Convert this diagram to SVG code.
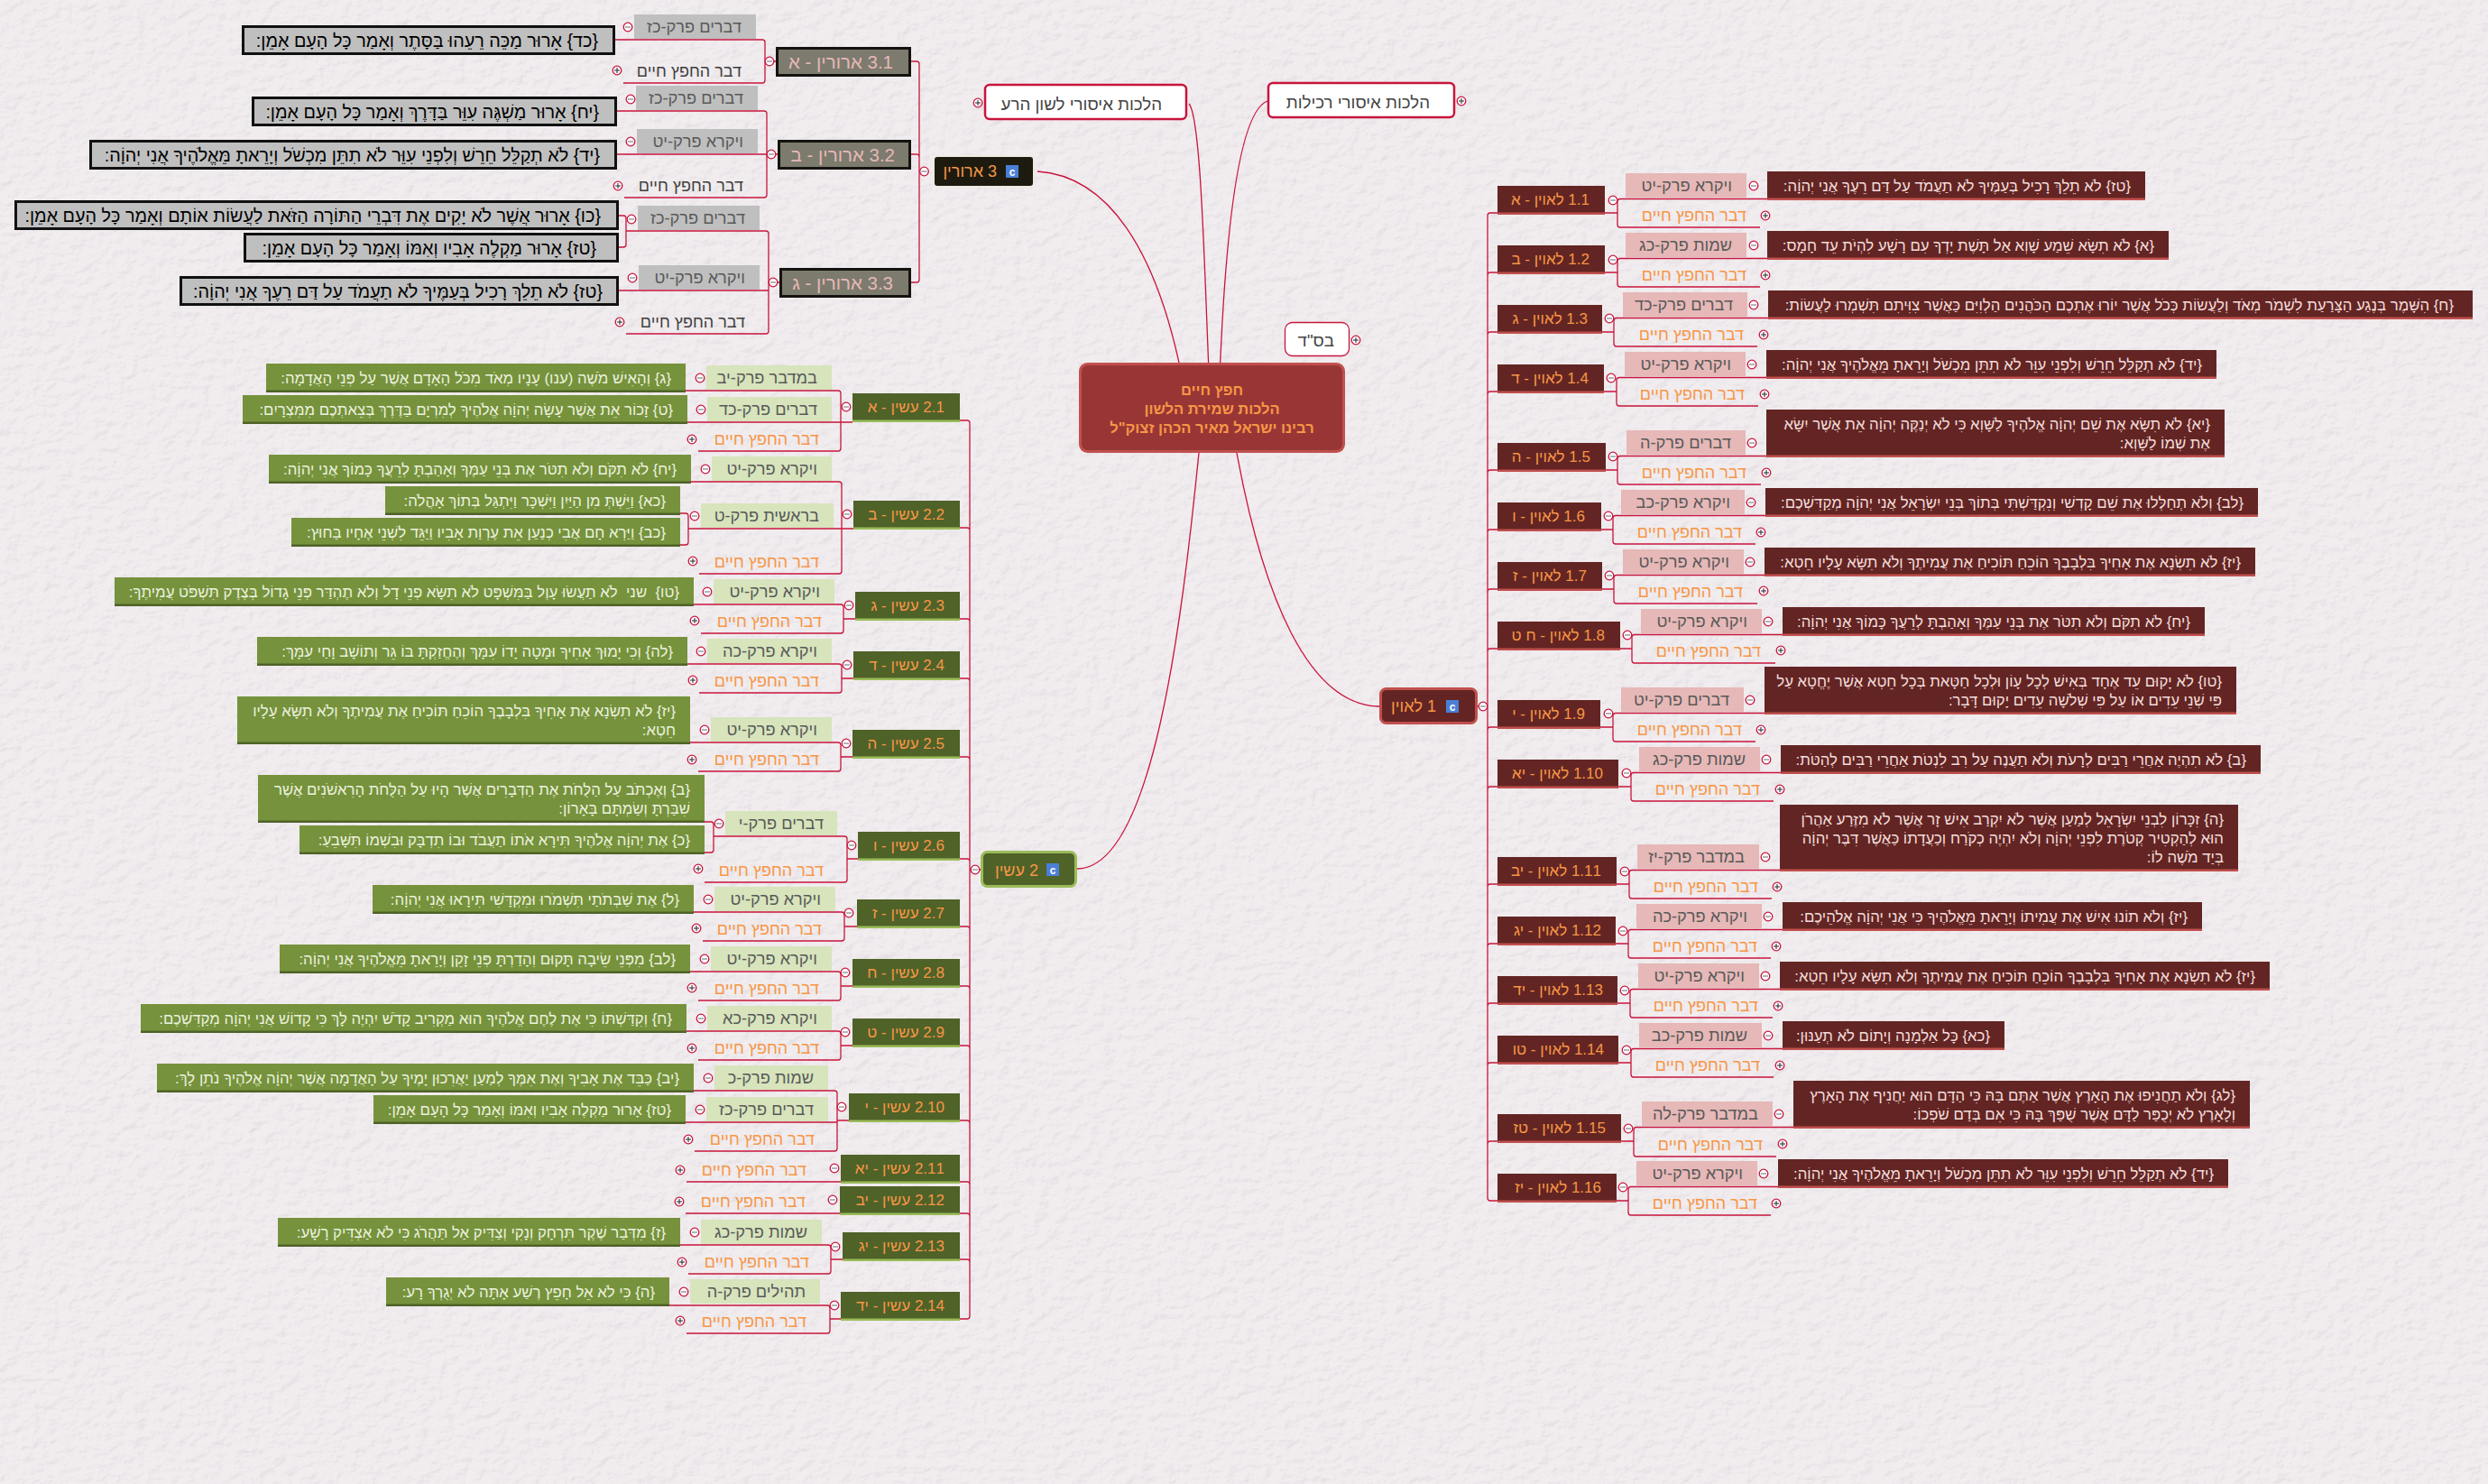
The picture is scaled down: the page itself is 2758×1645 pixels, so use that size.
<svg xmlns="http://www.w3.org/2000/svg" width="2758" height="1645" viewBox="0 0 2758 1645">
<style>
text{font-family:"Liberation Sans","Noto Sans",sans-serif;direction:rtl;text-anchor:start;font-size:16.800px}
.cn{fill:none;stroke:#c8143c;stroke-width:1.3}
.ch text{fill:#595959;font-size:18.200px}
.cr rect{fill:#e6b8b7}.cg rect{fill:#d7e4bc}.ck rect{fill:#bfbfbf}
.dv text{fill:#f79646;font-size:18px}
.dk text{fill:#404040}
.nr text,.ng text{font-size:17px}
.nr rect{fill:#632523}.nr .s{fill:#c0504d}.nr text,.ng text{fill:#f79646}
.ng rect{fill:#4f6228}.ng .s{fill:#9bbb59}
.nk rect{fill:#7c7b6e;stroke:#14130f;stroke-width:3}.nk text{fill:#e6b8b7;font-size:20.500px}
.vr rect{fill:#632523}.vr .s{fill:#c0504d}.vr text{fill:#f2dcdb}
.vg rect{fill:#76923c}.vg .s{fill:#4f6228}.vg text{fill:#ebf1de}
.vk rect{fill:#bfbfbf;stroke:#111;stroke-width:3}.vk text{fill:#000;font-size:19.800px}
.w rect{fill:#fff;stroke:#c8143c;stroke-width:2.500}.w text{fill:#444;font-size:18.700px}
.ct text{fill:#f79646;font-weight:bold;font-size:16.500px;text-anchor:middle}
.big text{fill:#f79646;font-size:18px}
.big .ic{fill:#fff;direction:ltr;text-anchor:middle;font-size:12px;font-weight:bold}
.mc{fill:#fff;stroke:#c8143c;stroke-width:1.300}
.ml{fill:none;stroke:#667;stroke-width:1}
</style>
<defs>
<filter id="paper" x="0" y="0" width="100%" height="100%" color-interpolation-filters="sRGB">
<feTurbulence type="fractalNoise" baseFrequency="0.07 0.1" numOctaves="4" seed="4" result="n"/>
<feDiffuseLighting in="n" surfaceScale="0.45" diffuseConstant="1.100" lighting-color="#fff"><feDistantLight azimuth="45" elevation="65"/></feDiffuseLighting>
<feColorMatrix type="matrix" values="0.945 0 0 0 0 0 0.925 0 0 0 0 0 0.935 0 0 0 0 0 0 1"/>
</filter>
<g id="mi"><circle class="mc" r="4.800"/><path class="ml" d="M-3 0H3"/></g>
<g id="pl"><circle class="mc" r="4.800"/><path d="M-3 0H3M0-3V3" fill="none" stroke="#223" stroke-width="1"/></g>
</defs>
<rect width="2758" height="1645" fill="#f0ecee" filter="url(#paper)"/>

<g id="connectors">
<path class="cn" d="M1150 190C1230 195 1280 280 1307 402M1318 115C1331 130 1335 290 1339.600 402M1405 112C1370 125 1358 280 1352.700 402M1329 502C1310 690 1278 963 1194 963M1371 502C1400 660 1450 783 1530 783"/>
<path class="cn" d="M1637 783H1649M1660 236H1652Q1649 236 1649 239V1328Q1649 1331 1652 1331H1660M1660 302H1652Q1649 302 1649 305M1660 368H1652Q1649 368 1649 371M1660 434H1652Q1649 434 1649 437M1660 521H1652Q1649 521 1649 524M1660 587H1652Q1649 587 1649 590M1660 653H1652Q1649 653 1649 656M1660 719H1652Q1649 719 1649 722M1660 806H1652Q1649 806 1649 809M1660 872H1652Q1649 872 1649 875M1660 980H1652Q1649 980 1649 983M1660 1046H1652Q1649 1046 1649 1049M1660 1112H1652Q1649 1112 1649 1115M1660 1178H1652Q1649 1178 1649 1181M1660 1265H1652Q1649 1265 1649 1268"/>
<path class="cn" d="M1959 220.500H1796Q1793 220.500 1793 223.500V249Q1793 252 1796 252H1951M1779 236H1793"/>
<path class="cn" d="M1959 286.500H1796Q1793 286.500 1793 289.500V315Q1793 318 1796 318H1951M1779 302H1793"/>
<path class="cn" d="M1960 352.500H1792Q1789 352.500 1789 355.500V381Q1789 384 1792 384H1948M1776 368H1789"/>
<path class="cn" d="M1958 418.500H1795Q1792 418.500 1792 421.500V447Q1792 450 1795 450H1949M1778 434H1792"/>
<path class="cn" d="M1958 505.500H1796Q1793 505.500 1793 508.500V534Q1793 537 1796 537H1952M1780 521H1793"/>
<path class="cn" d="M1957 571.500H1791Q1788 571.500 1788 574.500V600Q1788 603 1791 603H1946M1775 587H1788"/>
<path class="cn" d="M1956 637.500H1792Q1789 637.500 1789 640.500V666Q1789 669 1792 669H1948M1776 653H1789"/>
<path class="cn" d="M1976 703.500H1812Q1809 703.500 1809 706.500V732Q1809 735 1812 735H1968M1796 719H1809"/>
<path class="cn" d="M1956 790.500H1791Q1788 790.500 1788 793.500V819Q1788 822 1791 822H1946M1774 806H1788"/>
<path class="cn" d="M1974 856.500H1811Q1808 856.500 1808 859.500V885Q1808 888 1811 888H1966M1794 872H1808"/>
<path class="cn" d="M1973 964.500H1809Q1806 964.500 1806 967.500V993Q1806 996 1809 996H1964M1792 980H1806"/>
<path class="cn" d="M1976 1030.500H1808Q1805 1030.500 1805 1033.500V1059Q1805 1062 1808 1062H1963M1791 1046H1805"/>
<path class="cn" d="M1973 1096.500H1810Q1807 1096.500 1807 1099.500V1125Q1807 1128 1810 1128H1965M1793 1112H1807"/>
<path class="cn" d="M1976 1162.500H1811Q1808 1162.500 1808 1165.500V1191Q1808 1194 1811 1194H1966M1794 1178H1808"/>
<path class="cn" d="M1988 1249.500H1814Q1811 1249.500 1811 1252.500V1279Q1811 1282 1814 1282H1969M1797 1265H1811"/>
<path class="cn" d="M1971 1315.500H1808Q1805 1315.500 1805 1318.500V1344Q1805 1347 1808 1347H1963M1792 1331H1805"/>

<path class="cn" d="M1010 68H1016Q1019 68 1019 71V310Q1019 313 1016 313H1010M1010 171H1016Q1019 171 1019 174"/>
<path class="cn" d="M682 44H845Q848 44 848 47V89Q848 92 845 92H691M860 68H848"/>
<path class="cn" d="M684 123H847Q850 123 850 126V216Q850 219 847 219H692M684 171H862"/>
<path class="cn" d="M694 256H849Q852 256 852 259V367Q852 370 849 370H694M686 239H691Q694 239 694 242V271Q694 274 691 274H686M686 322H852M864 313H852"/>

<path class="cn" d="M1064 466H1072Q1075 466 1075 469V1459Q1075 1462 1072 1462H1064M1064 585H1072Q1075 585 1075 588M1064 686H1072Q1075 686 1075 689M1064 752H1072Q1075 752 1075 755M1064 839H1072Q1075 839 1075 842M1064 952H1072Q1075 952 1075 955M1064 1027H1072Q1075 1027 1075 1030M1064 1093H1072Q1075 1093 1075 1096M1064 1159H1072Q1075 1159 1075 1162M1064 1242H1072Q1075 1242 1075 1245M1064 1310H1072Q1075 1310 1075 1313M1064 1345H1072Q1075 1345 1075 1348M1064 1396H1072Q1075 1396 1075 1399M1087 964H1075"/>
<path class="cn" d="M760 433H929Q932 433 932 436V497Q932 500 929 500H774M762 468H945"/>
<path class="cn" d="M766 534H930Q933 534 933 537V633Q933 636 930 636H775M763 586H946M754 569H760Q763 569 763 572V601Q763 604 760 604H754"/>
<path class="cn" d="M769 670H932Q935 670 935 673V699Q935 702 932 702H777M935 686H948"/>
<path class="cn" d="M762 736H930Q933 736 933 739V765Q933 768 930 768H775M933 752H946"/>
<path class="cn" d="M765 823H929Q932 823 932 826V852Q932 855 929 855H774M932 839H945"/>
<path class="cn" d="M791 927H936Q939 927 939 930V975Q939 978 936 978H781M781 911H788Q791 911 791 914V942Q791 945 788 945H781M939 952H951"/>
<path class="cn" d="M769 1011H933Q936 1011 936 1014V1040Q936 1043 933 1043H779M936 1027H950"/>
<path class="cn" d="M765 1077H929Q932 1077 932 1080V1106Q932 1109 929 1109H774M932 1093H945"/>
<path class="cn" d="M761 1143H929Q932 1143 932 1146V1172Q932 1175 929 1175H774M932 1159H945"/>
<path class="cn" d="M769 1209H925Q928 1209 928 1212V1273Q928 1276 925 1276H770M760 1244H928M928 1242H941"/>
<path class="cn" d="M761 1310H932M760 1345H931"/>
<path class="cn" d="M754 1380H918Q921 1380 921 1383V1409Q921 1412 918 1412H763M921 1396H934"/>
<path class="cn" d="M742 1447H917Q920 1447 920 1450V1475Q920 1478 917 1478H761M920 1462H932"/>
</g>

<g id="center" class="ct"><rect x="1197.500" y="403.500" width="292" height="97" rx="8" fill="#983636" stroke="#c0504d" stroke-width="3"/><text x="1343.500" y="438">חפץ חיים</text><text x="1343.500" y="459">הלכות שמירת הלשון</text><text x="1343.500" y="480">רבינו ישראל מאיר הכהן זצוק"ל</text></g>
<g id="lashon" class="w"><rect x="1092" y="94" width="223" height="38" rx="5"/><text x="1288" y="122">הלכות איסורי לשון הרע</text><use href="#pl" x="1084" y="114"/></g>
<g id="rechilut" class="w"><rect x="1406" y="92" width="206" height="38" rx="5"/><text x="1585" y="120">הלכות איסורי רכילות</text><use href="#pl" x="1620" y="112"/></g>
<g id="bsd" class="w"><rect x="1424.500" y="357.500" width="71" height="37" rx="8" style="stroke-width:1.300"/><text x="1479" y="384">בס"ד</text><use href="#pl" x="1503" y="377"/></g>

<g id="n1" class="big"><rect x="1530.500" y="763.500" width="106" height="38" rx="6" fill="#632523" stroke="#c0504d" stroke-width="3"/><text x="1592" y="789">1 לאוין</text><rect x="1603" y="776" width="14" height="14" fill="#4a7fd6"/><text class="ic" x="1610" y="788">c</text><use href="#mi" x="1644" y="783"/></g>
<g id="n2" class="big"><rect x="1088.500" y="944.500" width="104" height="38" rx="6" fill="#4f6228" stroke="#9bbb59" stroke-width="3"/><text x="1151" y="971">2 עשין</text><rect x="1160" y="957" width="14" height="14" fill="#4a7fd6"/><text class="ic" x="1167" y="969">c</text><use href="#mi" x="1081" y="964"/></g>
<g id="n3" class="big"><rect x="1035" y="173" width="111" height="34" rx="4" fill="#1d1b10" stroke="#eeece1" stroke-width="2"/><text x="1105" y="196">3 ארורין</text><rect x="1115" y="183" width="14" height="14" fill="#4a7fd6"/><text class="ic" x="1122" y="195">c</text><use href="#mi" x="1024.500" y="190"/></g>

<g id="n1-1" class="nr"><rect x="1660" y="206" width="119" height="32"/><rect class="s" x="1660" y="235.500" width="119" height="2.500"/><text x="1762" y="227">1.1 לאוין - א</text><use href="#mi" x="1788" y="222"/></g>
<g id="c1-1" class="ch cr"><rect x="1802" y="192" width="134" height="27"/><text x="1920" y="212">ויקרא פרק-יט</text><use href="#mi" x="1944" y="206"/></g>
<g id="v1-1" class="vr"><rect x="1959" y="190" width="419" height="32"/><rect class="s" x="1959" y="219.500" width="419" height="2.500"/><text x="2362" y="212">{טז} לֹא תֵלֵךְ רָכִיל בְּעַמֶּיךָ לֹא תַעֲמֹד עַל דַּם רֵעֶךָ אֲנִי יְהוָֹה:</text></g>
<g id="d1-1" class="dv"><text x="1936" y="245">דבר החפץ חיים</text><use href="#pl" x="1957" y="239"/></g>

<g id="n1-2" class="nr"><rect x="1660" y="272" width="119" height="32"/><rect class="s" x="1660" y="301.500" width="119" height="2.500"/><text x="1762" y="293">1.2 לאוין - ב</text><use href="#mi" x="1788" y="288"/></g>
<g id="c1-2" class="ch cr"><rect x="1802" y="258" width="134" height="27"/><text x="1920" y="278">שמות פרק-כג</text><use href="#mi" x="1944" y="272"/></g>
<g id="v1-2" class="vr"><rect x="1959" y="256" width="445" height="32"/><rect class="s" x="1959" y="285.500" width="445" height="2.500"/><text x="2388" y="278">{א} לֹא תִשָּׂא שֵׁמַע שָׁוְא אַל תָּשֶׁת יָדְךָ עִם רָשָׁע לִהְיֹת עֵד חָמָס:</text></g>
<g id="d1-2" class="dv"><text x="1936" y="311">דבר החפץ חיים</text><use href="#pl" x="1957" y="305"/></g>

<g id="n1-3" class="nr"><rect x="1660" y="338" width="116" height="32"/><rect class="s" x="1660" y="367.500" width="116" height="2.500"/><text x="1760" y="359">1.3 לאוין - ג</text><use href="#mi" x="1784" y="353"/></g>
<g id="c1-3" class="ch cr"><rect x="1799" y="324" width="138" height="27"/><text x="1921" y="344">דברים פרק-כד</text><use href="#mi" x="1944" y="338"/></g>
<g id="v1-3" class="vr"><rect x="1960" y="322" width="781" height="32"/><rect class="s" x="1960" y="351.500" width="781" height="2.500"/><text x="2720" y="344">{ח} הִשָּׁמֶר בְּנֶגַע הַצָּרַעַת לִשְׁמֹר מְאֹד וְלַעֲשׂוֹת כְּכֹל אֲשֶׁר יוֹרוּ אֶתְכֶם הַכֹּהֲנִים הַלְוִיִּם כַּאֲשֶׁר צִוִּיתִם תִּשְׁמְרוּ לַעֲשׂוֹת:</text></g>
<g id="d1-3" class="dv"><text x="1933" y="377">דבר החפץ חיים</text><use href="#pl" x="1955" y="371"/></g>

<g id="n1-4" class="nr"><rect x="1660" y="404" width="118" height="32"/><rect class="s" x="1660" y="433.500" width="118" height="2.500"/><text x="1761" y="425">1.4 לאוין - ד</text><use href="#mi" x="1786" y="419"/></g>
<g id="c1-4" class="ch cr"><rect x="1801" y="390" width="134" height="27"/><text x="1919" y="410">ויקרא פרק-יט</text><use href="#mi" x="1942" y="404"/></g>
<g id="v1-4" class="vr"><rect x="1958" y="388" width="499" height="32"/><rect class="s" x="1958" y="417.500" width="499" height="2.500"/><text x="2441" y="410">{יד} לֹא תְקַלֵּל חֵרֵשׁ וְלִפְנֵי עִוֵּר לֹא תִתֵּן מִכְשֹׁל וְיָרֵאתָ מֵּאֱלֹהֶיךָ אֲנִי יְהוָֹה:</text></g>
<g id="d1-4" class="dv"><text x="1934" y="443">דבר החפץ חיים</text><use href="#pl" x="1956" y="437"/></g>

<g id="n1-5" class="nr"><rect x="1660" y="491" width="120" height="32"/><rect class="s" x="1660" y="520.500" width="120" height="2.500"/><text x="1763" y="512">1.5 לאוין - ה</text><use href="#mi" x="1788" y="506"/></g>
<g id="c1-5" class="ch cr"><rect x="1803" y="477" width="132" height="27"/><text x="1919" y="497">דברים פרק-ה</text><use href="#mi" x="1942" y="491"/></g>
<g id="v1-5" class="vr"><rect x="1958" y="454" width="508" height="53"/><rect class="s" x="1958" y="504.500" width="508" height="2.500"/><text x="2450" y="476">{יא} לֹא תִשָּׂא אֶת שֵׁם יְהוָֹה אֱלֹהֶיךָ לַשָּׁוְא כִּי לֹא יְנַקֶּה יְהוָֹה אֵת אֲשֶׁר יִשָּׂא</text><text x="2450" y="497">אֶת שְׁמוֹ לַשָּׁוְא:</text></g>
<g id="d1-5" class="dv"><text x="1936" y="530">דבר החפץ חיים</text><use href="#pl" x="1958" y="524"/></g>

<g id="n1-6" class="nr"><rect x="1660" y="557" width="115" height="32"/><rect class="s" x="1660" y="586.500" width="115" height="2.500"/><text x="1757" y="578">1.6 לאוין - ו</text><use href="#mi" x="1783" y="572"/></g>
<g id="c1-6" class="ch cr"><rect x="1797" y="543" width="137" height="27"/><text x="1918" y="563">ויקרא פרק-כב</text><use href="#mi" x="1941" y="557"/></g>
<g id="v1-6" class="vr"><rect x="1957" y="541" width="546" height="32"/><rect class="s" x="1957" y="570.500" width="546" height="2.500"/><text x="2487" y="563">{לב} וְלֹא תְחַלְּלוּ אֶת שֵׁם קָדְשִׁי וְנִקְדַּשְׁתִּי בְּתוֹךְ בְּנֵי יִשְׂרָאֵל אֲנִי יְהוָֹה מְקַדִּשְׁכֶם:</text></g>
<g id="d1-6" class="dv"><text x="1931" y="596">דבר החפץ חיים</text><use href="#pl" x="1952" y="590"/></g>

<g id="n1-7" class="nr"><rect x="1660" y="623" width="116" height="32"/><rect class="s" x="1660" y="652.500" width="116" height="2.500"/><text x="1759" y="644">1.7 לאוין - ז</text><use href="#mi" x="1784" y="638"/></g>
<g id="c1-7" class="ch cr"><rect x="1799" y="609" width="134" height="27"/><text x="1917" y="629">ויקרא פרק-יט</text><use href="#mi" x="1940" y="623"/></g>
<g id="v1-7" class="vr"><rect x="1956" y="607" width="544" height="32"/><rect class="s" x="1956" y="636.500" width="544" height="2.500"/><text x="2484" y="629">{יז} לֹא תִשְׂנָא אֶת אָחִיךָ בִּלְבָבֶךָ הוֹכֵחַ תּוֹכִיחַ אֶת עֲמִיתֶךָ וְלֹא תִשָּׂא עָלָיו חֵטְא:</text></g>
<g id="d1-7" class="dv"><text x="1932" y="662">דבר החפץ חיים</text><use href="#pl" x="1955" y="655"/></g>

<g id="n1-8" class="nr"><rect x="1660" y="689" width="136" height="32"/><rect class="s" x="1660" y="718.500" width="136" height="2.500"/><text x="1779" y="710">1.8 לאוין - ח ט</text><use href="#mi" x="1804" y="704"/></g>
<g id="c1-8" class="ch cr"><rect x="1819" y="675" width="134" height="27"/><text x="1937" y="695">ויקרא פרק-יט</text><use href="#mi" x="1960" y="689"/></g>
<g id="v1-8" class="vr"><rect x="1976" y="673" width="468" height="32"/><rect class="s" x="1976" y="702.500" width="468" height="2.500"/><text x="2428" y="695">{יח} לֹא תִקֹּם וְלֹא תִטֹּר אֶת בְּנֵי עַמֶּךָ וְאָהַבְתָּ לְרֵעֲךָ כָּמוֹךָ אֲנִי יְהוָֹה:</text></g>
<g id="d1-8" class="dv"><text x="1952" y="728">דבר החפץ חיים</text><use href="#pl" x="1974" y="721"/></g>

<g id="n1-9" class="nr"><rect x="1660" y="776" width="114" height="32"/><rect class="s" x="1660" y="805.500" width="114" height="2.500"/><text x="1757" y="797">1.9 לאוין - י</text><use href="#mi" x="1783" y="791"/></g>
<g id="c1-9" class="ch cr"><rect x="1797" y="762" width="136" height="27"/><text x="1917" y="782">דברים פרק-יט</text><use href="#mi" x="1940" y="776"/></g>
<g id="v1-9" class="vr"><rect x="1956" y="739" width="523" height="53"/><rect class="s" x="1956" y="789.500" width="523" height="2.500"/><text x="2463" y="761">{טו} לֹא יָקוּם עֵד אֶחָד בְּאִישׁ לְכָל עָוֹן וּלְכָל חַטָּאת בְּכָל חֵטְא אֲשֶׁר יֶחֱטָא עַל</text><text x="2463" y="782">פִּי שְׁנֵי עֵדִים אוֹ עַל פִּי שְׁלֹשָׁה עֵדִים יָקוּם דָּבָר:</text></g>
<g id="d1-9" class="dv"><text x="1931" y="815">דבר החפץ חיים</text><use href="#pl" x="1952" y="809"/></g>

<g id="n1-10" class="nr"><rect x="1660" y="842" width="134" height="32"/><rect class="s" x="1660" y="871.500" width="134" height="2.500"/><text x="1777" y="863">1.10 לאוין - יא</text><use href="#mi" x="1803" y="857"/></g>
<g id="c1-10" class="ch cr"><rect x="1817" y="828" width="134" height="27"/><text x="1935" y="848">שמות פרק-כג</text><use href="#mi" x="1958" y="842"/></g>
<g id="v1-10" class="vr"><rect x="1974" y="826" width="532" height="32"/><rect class="s" x="1974" y="855.500" width="532" height="2.500"/><text x="2490" y="848">{ב} לֹא תִהְיֶה אַחֲרֵי רַבִּים לְרָעֹת וְלֹא תַעֲנֶה עַל רִב לִנְטֹת אַחֲרֵי רַבִּים לְהַטֹּת:</text></g>
<g id="d1-10" class="dv"><text x="1951" y="881">דבר החפץ חיים</text><use href="#pl" x="1973" y="875"/></g>

<g id="n1-11" class="nr"><rect x="1660" y="950" width="132" height="32"/><rect class="s" x="1660" y="979.500" width="132" height="2.500"/><text x="1775" y="971">1.11 לאוין - יב</text><use href="#mi" x="1801" y="966"/></g>
<g id="c1-11" class="ch cr"><rect x="1815" y="936" width="135" height="27"/><text x="1934" y="956">במדבר פרק-יז</text><use href="#mi" x="1957" y="950"/></g>
<g id="v1-11" class="vr"><rect x="1973" y="892" width="508" height="74"/><rect class="s" x="1973" y="963.500" width="508" height="2.500"/><text x="2465" y="914">{ה} זִכָּרוֹן לִבְנֵי יִשְׂרָאֵל לְמַעַן אֲשֶׁר לֹא יִקְרַב אִישׁ זָר אֲשֶׁר לֹא מִזֶּרַע אַהֲרֹן</text><text x="2465" y="935">הוּא לְהַקְטִיר קְטֹרֶת לִפְנֵי יְהוָֹה וְלֹא יִהְיֶה כְקֹרַח וְכַעֲדָתוֹ כַּאֲשֶׁר דִּבֶּר יְהוָֹה</text><text x="2465" y="956">בְּיַד מֹשֶׁה לוֹ:</text></g>
<g id="d1-11" class="dv"><text x="1949" y="989">דבר החפץ חיים</text><use href="#pl" x="1970" y="983"/></g>

<g id="n1-12" class="nr"><rect x="1660" y="1016" width="131" height="32"/><rect class="s" x="1660" y="1045.500" width="131" height="2.500"/><text x="1775" y="1037">1.12 לאוין - יג</text><use href="#mi" x="1799" y="1032"/></g>
<g id="c1-12" class="ch cr"><rect x="1814" y="1002" width="139" height="27"/><text x="1937" y="1022">ויקרא פרק-כה</text><use href="#mi" x="1960" y="1016"/></g>
<g id="v1-12" class="vr"><rect x="1976" y="1000" width="465" height="32"/><rect class="s" x="1976" y="1029.500" width="465" height="2.500"/><text x="2425" y="1022">{יז} וְלֹא תוֹנוּ אִישׁ אֶת עֲמִיתוֹ וְיָרֵאתָ מֵּאֱלֹהֶיךָ כִּי אֲנִי יְהוָֹה אֱלֹהֵיכֶם:</text></g>
<g id="d1-12" class="dv"><text x="1948" y="1055">דבר החפץ חיים</text><use href="#pl" x="1969" y="1049"/></g>

<g id="n1-13" class="nr"><rect x="1660" y="1082" width="133" height="32"/><rect class="s" x="1660" y="1111.500" width="133" height="2.500"/><text x="1777" y="1103">1.13 לאוין - יד</text><use href="#mi" x="1801" y="1098"/></g>
<g id="c1-13" class="ch cr"><rect x="1816" y="1068" width="134" height="27"/><text x="1934" y="1088">ויקרא פרק-יט</text><use href="#mi" x="1957" y="1082"/></g>
<g id="v1-13" class="vr"><rect x="1973" y="1066" width="543" height="32"/><rect class="s" x="1973" y="1095.500" width="543" height="2.500"/><text x="2500" y="1088">{יז} לֹא תִשְׂנָא אֶת אָחִיךָ בִּלְבָבֶךָ הוֹכֵחַ תּוֹכִיחַ אֶת עֲמִיתֶךָ וְלֹא תִשָּׂא עָלָיו חֵטְא:</text></g>
<g id="d1-13" class="dv"><text x="1949" y="1121">דבר החפץ חיים</text><use href="#pl" x="1971" y="1115"/></g>

<g id="n1-14" class="nr"><rect x="1660" y="1148" width="134" height="32"/><rect class="s" x="1660" y="1177.500" width="134" height="2.500"/><text x="1778" y="1169">1.14 לאוין - טו</text><use href="#mi" x="1803" y="1164"/></g>
<g id="c1-14" class="ch cr"><rect x="1817" y="1134" width="136" height="27"/><text x="1937" y="1154">שמות פרק-כב</text><use href="#mi" x="1960" y="1148"/></g>
<g id="v1-14" class="vr"><rect x="1976" y="1132" width="246" height="32"/><rect class="s" x="1976" y="1161.500" width="246" height="2.500"/><text x="2206" y="1154">{כא} כָּל אַלְמָנָה וְיָתוֹם לֹא תְעַנּוּן:</text></g>
<g id="d1-14" class="dv"><text x="1951" y="1187">דבר החפץ חיים</text><use href="#pl" x="1973" y="1181"/></g>

<g id="n1-15" class="nr"><rect x="1660" y="1235" width="137" height="32"/><rect class="s" x="1660" y="1264.500" width="137" height="2.500"/><text x="1780" y="1256">1.15 לאוין - טז</text><use href="#mi" x="1805" y="1251"/></g>
<g id="c1-15" class="ch cr"><rect x="1820" y="1221" width="145" height="27"/><text x="1949" y="1241">במדבר פרק-לה</text><use href="#mi" x="1972" y="1235"/></g>
<g id="v1-15" class="vr"><rect x="1988" y="1198" width="506" height="53"/><rect class="s" x="1988" y="1248.500" width="506" height="2.500"/><text x="2478" y="1220">{לג} וְלֹא תַחֲנִיפוּ אֶת הָאָרֶץ אֲשֶׁר אַתֶּם בָּהּ כִּי הַדָּם הוּא יַחֲנִיף אֶת הָאָרֶץ</text><text x="2478" y="1241">וְלָאָרֶץ לֹא יְכֻפַּר לַדָּם אֲשֶׁר שֻׁפַּךְ בָּהּ כִּי אִם בְּדַם שֹׁפְכוֹ:</text></g>
<g id="d1-15" class="dv"><text x="1954" y="1275">דבר החפץ חיים</text><use href="#pl" x="1976" y="1268"/></g>

<g id="n1-16" class="nr"><rect x="1660" y="1301" width="132" height="32"/><rect class="s" x="1660" y="1330.500" width="132" height="2.500"/><text x="1775" y="1322">1.16 לאוין - יז</text><use href="#mi" x="1799" y="1316"/></g>
<g id="c1-16" class="ch cr"><rect x="1814" y="1287" width="134" height="27"/><text x="1932" y="1307">ויקרא פרק-יט</text><use href="#mi" x="1955" y="1301"/></g>
<g id="v1-16" class="vr"><rect x="1971" y="1285" width="499" height="32"/><rect class="s" x="1971" y="1314.500" width="499" height="2.500"/><text x="2454" y="1307">{יד} לֹא תְקַלֵּל חֵרֵשׁ וְלִפְנֵי עִוֵּר לֹא תִתֵּן מִכְשֹׁל וְיָרֵאתָ מֵּאֱלֹהֶיךָ אֲנִי יְהוָֹה:</text></g>
<g id="d1-16" class="dv"><text x="1948" y="1340">דבר החפץ חיים</text><use href="#pl" x="1969" y="1334"/></g>

<g id="n2-1" class="ng"><rect x="945" y="436" width="119" height="32"/><rect class="s" x="945" y="465.500" width="119" height="2.500"/><text x="1047" y="457">2.1 עשין - א</text><use href="#mi" x="938" y="451"/></g>
<g id="c2-1a" class="ch cg"><rect x="783" y="405" width="139" height="27"/><text x="906" y="425">במדבר פרק-יב</text><use href="#mi" x="776" y="419"/></g>
<g id="v2-1a" class="vg"><rect x="295" y="403" width="465" height="32"/><rect class="s" x="295" y="432.500" width="465" height="2.500"/><text x="744" y="425">{ג} וְהָאִישׁ מֹשֶׁה (ענו) עָנָיו מְאֹד מִכֹּל הָאָדָם אֲשֶׁר עַל פְּנֵי הָאֲדָמָה:</text></g>
<g id="c2-1b" class="ch cg"><rect x="784" y="440" width="138" height="27"/><text x="906" y="460">דברים פרק-כד</text><use href="#mi" x="777" y="454"/></g>
<g id="v2-1b" class="vg"><rect x="269" y="438" width="493" height="32"/><rect class="s" x="269" y="467.500" width="493" height="2.500"/><text x="746" y="460">{ט} זָכוֹר אֵת אֲשֶׁר עָשָׂה יְהוָֹה אֱלֹהֶיךָ לְמִרְיָם בַּדֶּרֶךְ בְּצֵאתְכֶם מִמִּצְרָיִם:</text></g>
<g id="d2-1" class="dv"><text x="908" y="493">דבר החפץ חיים</text><use href="#pl" x="767" y="487"/></g>

<g id="n2-2" class="ng"><rect x="946" y="555" width="118" height="32"/><rect class="s" x="946" y="584.500" width="118" height="2.500"/><text x="1047" y="576">2.2 עשין - ב</text><use href="#mi" x="939" y="570"/></g>
<g id="c2-2a" class="ch cg"><rect x="789" y="506" width="133" height="27"/><text x="906" y="526">ויקרא פרק-יט</text><use href="#mi" x="782" y="520"/></g>
<g id="v2-2a" class="vg"><rect x="298" y="504" width="468" height="32"/><rect class="s" x="298" y="533.500" width="468" height="2.500"/><text x="750" y="526">{יח} לֹא תִקֹּם וְלֹא תִטֹּר אֶת בְּנֵי עַמֶּךָ וְאָהַבְתָּ לְרֵעֲךָ כָּמוֹךָ אֲנִי יְהוָֹה:</text></g>
<g id="c2-2b" class="ch cg"><rect x="777" y="558" width="147" height="27"/><text x="908" y="578">בראשית פרק-ט</text><use href="#mi" x="770" y="572"/></g>
<g id="v2-2b" class="vg"><rect x="427" y="539" width="327" height="32"/><rect class="s" x="427" y="568.500" width="327" height="2.500"/><text x="738" y="561">{כא} וַיֵּשְׁתְּ מִן הַיַּיִן וַיִּשְׁכָּר וַיִּתְגַּל בְּתוֹךְ אָהֳלֹה:</text></g>
<g id="v2-2c" class="vg"><rect x="323" y="574" width="431" height="32"/><rect class="s" x="323" y="603.500" width="431" height="2.500"/><text x="738" y="596">{כב} וַיַּרְא חָם אֲבִי כְנַעַן אֵת עֶרְוַת אָבִיו וַיַּגֵּד לִשְׁנֵי אֶחָיו בַּחוּץ:</text></g>
<g id="d2-2" class="dv"><text x="908" y="629">דבר החפץ חיים</text><use href="#pl" x="768" y="622"/></g>

<g id="n2-3" class="ng"><rect x="948" y="656" width="116" height="32"/><rect class="s" x="948" y="685.500" width="116" height="2.500"/><text x="1047" y="677">2.3 עשין - ג</text><use href="#mi" x="941" y="671"/></g>
<g id="c2-3" class="ch cg"><rect x="791" y="642" width="134" height="27"/><text x="909" y="662">ויקרא פרק-יט</text><use href="#mi" x="784" y="656"/></g>
<g id="v2-3" class="vg"><rect x="127" y="640" width="642" height="32"/><rect class="s" x="127" y="669.500" width="642" height="2.500"/><text x="753" y="662" style="white-space:pre">{טו}  שני  לֹא תַעֲשׂוּ עָוֶל בַּמִּשְׁפָּט לֹא תִשָּׂא פְנֵי דָל וְלֹא תֶהְדַּר פְּנֵי גָדוֹל בְּצֶדֶק תִּשְׁפֹּט עֲמִיתֶךָ:</text></g>
<g id="d2-3" class="dv"><text x="911" y="695">דבר החפץ חיים</text><use href="#pl" x="770" y="688"/></g>

<g id="n2-4" class="ng"><rect x="946" y="722" width="118" height="32"/><rect class="s" x="946" y="751.500" width="118" height="2.500"/><text x="1047" y="743">2.4 עשין - ד</text><use href="#mi" x="939" y="737"/></g>
<g id="c2-4" class="ch cg"><rect x="784" y="708" width="138" height="27"/><text x="906" y="728">ויקרא פרק-כה</text><use href="#mi" x="777" y="722"/></g>
<g id="v2-4" class="vg"><rect x="285" y="706" width="477" height="32"/><rect class="s" x="285" y="735.500" width="477" height="2.500"/><text x="746" y="728">{לה} וְכִי יָמוּךְ אָחִיךָ וּמָטָה יָדוֹ עִמָּךְ וְהֶחֱזַקְתָּ בּוֹ גֵּר וְתוֹשָׁב וָחַי עִמָּךְ:</text></g>
<g id="d2-4" class="dv"><text x="908" y="761">דבר החפץ חיים</text><use href="#pl" x="768" y="754"/></g>

<g id="n2-5" class="ng"><rect x="945" y="809" width="119" height="32"/><rect class="s" x="945" y="838.500" width="119" height="2.500"/><text x="1047" y="830">2.5 עשין - ה</text><use href="#mi" x="938" y="824"/></g>
<g id="c2-5" class="ch cg"><rect x="788" y="795" width="134" height="27"/><text x="906" y="815">ויקרא פרק-יט</text><use href="#mi" x="781" y="809"/></g>
<g id="v2-5" class="vg"><rect x="263" y="772" width="502" height="53"/><rect class="s" x="263" y="822.500" width="502" height="2.500"/><text x="749" y="794">{יז} לֹא תִשְׂנָא אֶת אָחִיךָ בִּלְבָבֶךָ הוֹכֵחַ תּוֹכִיחַ אֶת עֲמִיתֶךָ וְלֹא תִשָּׂא עָלָיו</text><text x="749" y="815">חֵטְא:</text></g>
<g id="d2-5" class="dv"><text x="908" y="848">דבר החפץ חיים</text><use href="#pl" x="767" y="842"/></g>

<g id="n2-6" class="ng"><rect x="951" y="922" width="113" height="32"/><rect class="s" x="951" y="951.500" width="113" height="2.500"/><text x="1047" y="943">2.6 עשין - ו</text><use href="#mi" x="944" y="937"/></g>
<g id="c2-6" class="ch cg"><rect x="804" y="899" width="124" height="27"/><text x="913" y="919">דברים פרק-י</text><use href="#mi" x="797" y="913"/></g>
<g id="v2-6a" class="vg"><rect x="286" y="859" width="495" height="53"/><rect class="s" x="286" y="909.500" width="495" height="2.500"/><text x="765" y="881">{ב} וְאֶכְתֹּב עַל הַלֻּחֹת אֶת הַדְּבָרִים אֲשֶׁר הָיוּ עַל הַלֻּחֹת הָרִאשֹׁנִים אֲשֶׁר</text><text x="765" y="902">שִׁבַּרְתָּ וְשַׂמְתָּם בָּאָרוֹן:</text></g>
<g id="v2-6b" class="vg"><rect x="332" y="915" width="449" height="32"/><rect class="s" x="332" y="944.500" width="449" height="2.500"/><text x="765" y="937">{כ} אֶת יְהוָֹה אֱלֹהֶיךָ תִּירָא אֹתוֹ תַעֲבֹד וּבוֹ תִדְבָּק וּבִשְׁמוֹ תִּשָּׁבֵעַ:</text></g>
<g id="d2-6" class="dv"><text x="913" y="971">דבר החפץ חיים</text><use href="#pl" x="774" y="963"/></g>

<g id="n2-7" class="ng"><rect x="950" y="997" width="114" height="32"/><rect class="s" x="950" y="1026.500" width="114" height="2.500"/><text x="1047" y="1018">2.7 עשין - ז</text><use href="#mi" x="941" y="1012"/></g>
<g id="c2-7" class="ch cg"><rect x="792" y="983" width="134" height="27"/><text x="910" y="1003">ויקרא פרק-יט</text><use href="#mi" x="785" y="997"/></g>
<g id="v2-7" class="vg"><rect x="413" y="981" width="356" height="32"/><rect class="s" x="413" y="1010.500" width="356" height="2.500"/><text x="753" y="1003">{ל} אֶת שַׁבְּתֹתַי תִּשְׁמֹרוּ וּמִקְדָּשִׁי תִּירָאוּ אֲנִי יְהוָֹה:</text></g>
<g id="d2-7" class="dv"><text x="911" y="1036">דבר החפץ חיים</text><use href="#pl" x="772" y="1029"/></g>

<g id="n2-8" class="ng"><rect x="945" y="1063" width="119" height="32"/><rect class="s" x="945" y="1092.500" width="119" height="2.500"/><text x="1047" y="1084">2.8 עשין - ח</text><use href="#mi" x="937" y="1078"/></g>
<g id="c2-8" class="ch cg"><rect x="788" y="1049" width="134" height="27"/><text x="906" y="1069">ויקרא פרק-יט</text><use href="#mi" x="781" y="1063"/></g>
<g id="v2-8" class="vg"><rect x="310" y="1047" width="455" height="32"/><rect class="s" x="310" y="1076.500" width="455" height="2.500"/><text x="749" y="1069">{לב} מִפְּנֵי שֵׂיבָה תָּקוּם וְהָדַרְתָּ פְּנֵי זָקֵן וְיָרֵאתָ מֵּאֱלֹהֶיךָ אֲנִי יְהוָֹה:</text></g>
<g id="d2-8" class="dv"><text x="908" y="1102">דבר החפץ חיים</text><use href="#pl" x="767" y="1095"/></g>

<g id="n2-9" class="ng"><rect x="945" y="1129" width="119" height="32"/><rect class="s" x="945" y="1158.500" width="119" height="2.500"/><text x="1047" y="1150">2.9 עשין - ט</text><use href="#mi" x="937" y="1144"/></g>
<g id="c2-9" class="ch cg"><rect x="784" y="1115" width="138" height="27"/><text x="906" y="1135">ויקרא פרק-כא</text><use href="#mi" x="777" y="1129"/></g>
<g id="v2-9" class="vg"><rect x="156" y="1113" width="605" height="32"/><rect class="s" x="156" y="1142.500" width="605" height="2.500"/><text x="745" y="1135">{ח} וְקִדַּשְׁתּוֹ כִּי אֶת לֶחֶם אֱלֹהֶיךָ הוּא מַקְרִיב קָדֹשׁ יִהְיֶה לָּךְ כִּי קָדוֹשׁ אֲנִי יְהוָֹה מְקַדִּשְׁכֶם:</text></g>
<g id="d2-9" class="dv"><text x="908" y="1168">דבר החפץ חיים</text><use href="#pl" x="767" y="1162"/></g>

<g id="n2-10" class="ng"><rect x="941" y="1212" width="123" height="32"/><rect class="s" x="941" y="1241.500" width="123" height="2.500"/><text x="1047" y="1233">2.10 עשין - י</text><use href="#mi" x="933" y="1227"/></g>
<g id="c2-10a" class="ch cg"><rect x="792" y="1181" width="126" height="27"/><text x="902" y="1201">שמות פרק-כ</text><use href="#mi" x="785" y="1195"/></g>
<g id="v2-10a" class="vg"><rect x="174" y="1179" width="595" height="32"/><rect class="s" x="174" y="1208.500" width="595" height="2.500"/><text x="753" y="1201">{יב} כַּבֵּד אֶת אָבִיךָ וְאֶת אִמֶּךָ לְמַעַן יַאֲרִכוּן יָמֶיךָ עַל הָאֲדָמָה אֲשֶׁר יְהוָֹה אֱלֹהֶיךָ נֹתֵן לָךְ:</text></g>
<g id="c2-10b" class="ch cg"><rect x="783" y="1216" width="135" height="27"/><text x="902" y="1236">דברים פרק-כז</text><use href="#mi" x="776" y="1230"/></g>
<g id="v2-10b" class="vg"><rect x="414" y="1214" width="346" height="32"/><rect class="s" x="414" y="1243.500" width="346" height="2.500"/><text x="744" y="1236">{טז} אָרוּר מַקְלֶה אָבִיו וְאִמּוֹ וְאָמַר כָּל הָעָם אָמֵן:</text></g>
<g id="d2-10" class="dv"><text x="903" y="1269">דבר החפץ חיים</text><use href="#pl" x="763" y="1263"/></g>

<g id="n2-11" class="ng"><rect x="932" y="1280" width="132" height="32"/><rect class="s" x="932" y="1309.500" width="132" height="2.500"/><text x="1047" y="1301">2.11 עשין - יא</text><use href="#mi" x="925" y="1295"/></g>
<g id="d2-11" class="dv"><text x="894" y="1303">דבר החפץ חיים</text><use href="#pl" x="754" y="1297"/></g>
<g id="n2-12" class="ng"><rect x="931" y="1315" width="133" height="32"/><rect class="s" x="931" y="1344.500" width="133" height="2.500"/><text x="1047" y="1336">2.12 עשין - יב</text><use href="#mi" x="923" y="1330"/></g>
<g id="d2-12" class="dv"><text x="893" y="1338">דבר החפץ חיים</text><use href="#pl" x="753" y="1332"/></g>

<g id="n2-13" class="ng"><rect x="934" y="1366" width="130" height="32"/><rect class="s" x="934" y="1395.500" width="130" height="2.500"/><text x="1047" y="1387">2.13 עשין - יג</text><use href="#mi" x="926" y="1382"/></g>
<g id="c2-13" class="ch cg"><rect x="777" y="1352" width="134" height="27"/><text x="895" y="1372">שמות פרק-כג</text><use href="#mi" x="770" y="1366"/></g>
<g id="v2-13" class="vg"><rect x="308" y="1350" width="446" height="32"/><rect class="s" x="308" y="1379.500" width="446" height="2.500"/><text x="738" y="1372">{ז} מִדְּבַר שֶׁקֶר תִּרְחָק וְנָקִי וְצַדִּיק אַל תַּהֲרֹג כִּי לֹא אַצְדִּיק רָשָׁע:</text></g>
<g id="d2-13" class="dv"><text x="897" y="1405">דבר החפץ חיים</text><use href="#pl" x="756" y="1399"/></g>

<g id="n2-14" class="ng"><rect x="932" y="1432" width="132" height="32"/><rect class="s" x="932" y="1461.500" width="132" height="2.500"/><text x="1047" y="1453">2.14 עשין - יד</text><use href="#mi" x="925" y="1447"/></g>
<g id="c2-14" class="ch cg"><rect x="765" y="1418" width="144" height="27"/><text x="893" y="1438">תהילים פרק-ה</text><use href="#mi" x="758" y="1432"/></g>
<g id="v2-14" class="vg"><rect x="428" y="1416" width="314" height="32"/><rect class="s" x="428" y="1445.500" width="314" height="2.500"/><text x="726" y="1438">{ה} כִּי לֹא אֵל חָפֵץ רֶשַׁע אָתָּה לֹא יְגֻרְךָ רָע:</text></g>
<g id="d2-14" class="dv"><text x="894" y="1471">דבר החפץ חיים</text><use href="#pl" x="754" y="1464"/></g>

<g id="n3-1" class="nk"><rect x="861.500" y="53.500" width="147" height="30"/><text x="990" y="76">3.1 ארורין - א</text><use href="#mi" x="853" y="68"/></g>
<g id="c3-1" class="ch ck"><rect x="703" y="16" width="135" height="27"/><text x="822" y="36">דברים פרק-כז</text><use href="#mi" x="696" y="30"/></g>
<g id="v3-1" class="vk"><rect x="269.500" y="29.500" width="411" height="30"/><text x="663" y="52">{כד} אָרוּר מַכֵּה רֵעֵהוּ בַּסָּתֶר וְאָמַר כָּל הָעָם אָמֵן:</text></g>
<g id="d3-1" class="dk dv"><text x="822" y="85">דבר החפץ חיים</text><use href="#pl" x="684" y="78"/></g>

<g id="n3-2" class="nk"><rect x="863.500" y="156.500" width="145" height="30"/><text x="992" y="179">3.2 ארורין - ב</text><use href="#mi" x="855" y="171"/></g>
<g id="c3-2a" class="ch ck"><rect x="705" y="95" width="135" height="27"/><text x="824" y="115">דברים פרק-כז</text><use href="#mi" x="699" y="110"/></g>
<g id="v3-2a" class="vk"><rect x="280.500" y="108.500" width="402" height="30"/><text x="664" y="131">{יח} אָרוּר מַשְׁגֶּה עִוֵּר בַּדָּרֶךְ וְאָמַר כָּל הָעָם אָמֵן:</text></g>
<g id="c3-2b" class="ch ck"><rect x="706" y="143" width="134" height="27"/><text x="824" y="163">ויקרא פרק-יט</text><use href="#mi" x="699" y="157"/></g>
<g id="v3-2b" class="vk"><rect x="100.500" y="156.500" width="582" height="30"/><text x="665" y="179">{יד} לֹא תְקַלֵּל חֵרֵשׁ וְלִפְנֵי עִוֵּר לֹא תִתֵּן מִכְשֹׁל וְיָרֵאתָ מֵּאֱלֹהֶיךָ אֲנִי יְהוָֹה:</text></g>
<g id="d3-2" class="dk dv"><text x="824" y="212">דבר החפץ חיים</text><use href="#pl" x="685" y="206"/></g>

<g id="n3-3" class="nk"><rect x="865.500" y="298.500" width="143" height="30"/><text x="990" y="321">3.3 ארורין - ג</text><use href="#mi" x="857" y="313"/></g>
<g id="c3-3a" class="ch ck"><rect x="707" y="228" width="135" height="27"/><text x="826" y="248">דברים פרק-כז</text><use href="#mi" x="700" y="243"/></g>
<g id="v3-3a" class="vk"><rect x="17.500" y="223.500" width="667" height="30"/><text x="666" y="246">{כו} אָרוּר אֲשֶׁר לֹא יָקִים אֶת דִּבְרֵי הַתּוֹרָה הַזֹּאת לַעֲשׂוֹת אוֹתָם וְאָמַר כָּל הָעָם אָמֵן:</text></g>
<g id="v3-3b" class="vk"><rect x="271.500" y="259.500" width="413" height="30"/><text x="661" y="282">{טז} אָרוּר מַקְלֶה אָבִיו וְאִמּוֹ וְאָמַר כָּל הָעָם אָמֵן:</text></g>
<g id="c3-3b" class="ch ck"><rect x="708" y="294" width="134" height="27"/><text x="826" y="314">ויקרא פרק-יט</text><use href="#mi" x="701" y="308"/></g>
<g id="v3-3c" class="vk"><rect x="200.500" y="307.500" width="484" height="30"/><text x="668" y="330">{טז} לֹא תֵלֵךְ רָכִיל בְּעַמֶּיךָ לֹא תַעֲמֹד עַל דַּם רֵעֶךָ אֲנִי יְהוָֹה:</text></g>
<g id="d3-3" class="dk dv"><text x="826" y="363">דבר החפץ חיים</text><use href="#pl" x="687" y="357"/></g>
</svg>
